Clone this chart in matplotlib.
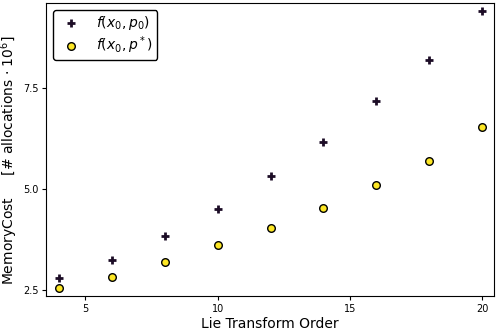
import numpy as np
import matplotlib.pyplot as plt

# data
order = [4, 6, 8, 10, 12, 14, 16, 18, 20]
cost_p0 = [2.80, 3.26, 3.85, 4.50, 5.31, 6.15, 7.16, 8.19, 9.40]
cost_pstar = [2.55, 2.84, 3.21, 3.61, 4.05, 4.54, 5.11, 5.70, 6.54]

fig, ax = plt.subplots(figsize=(4.98, 3.32), dpi=100)
ax.scatter(order, cost_p0, marker="+", s=30, linewidths=2, color="#1c0c26",
           label=r"$f(x_0, p_0)$", zorder=3)
ax.scatter(order, cost_pstar, marker="o", s=30, facecolor="#fde725",
           edgecolor="black", linewidths=1, label=r"$f(x_0, p^*)$", zorder=3)

ax.set_xlim(3.52, 20.45)
ax.set_ylim(2.35, 9.59)
ax.set_xticks([5, 10, 15, 20])
ax.set_yticks([2.5, 5.0, 7.5])
ax.tick_params(labelsize=7, length=3, pad=2.5)
ax.set_xlabel("Lie Transform Order", fontsize=10, labelpad=2)
ax.set_ylabel(r"MemoryCost $\quad$ [# allocations $\cdot$ $10^6$]", fontsize=10)
ax.yaxis.set_label_coords(-0.058, 0.466)
leg = ax.legend(loc="upper left", fontsize=10, edgecolor="black", fancybox=True,
                labelspacing=0.15, borderpad=0.3)
leg.get_frame().set_alpha(1)

fig.subplots_adjust(left=0.093, right=0.992, top=0.991, bottom=0.107)
fig.savefig("out.png")
